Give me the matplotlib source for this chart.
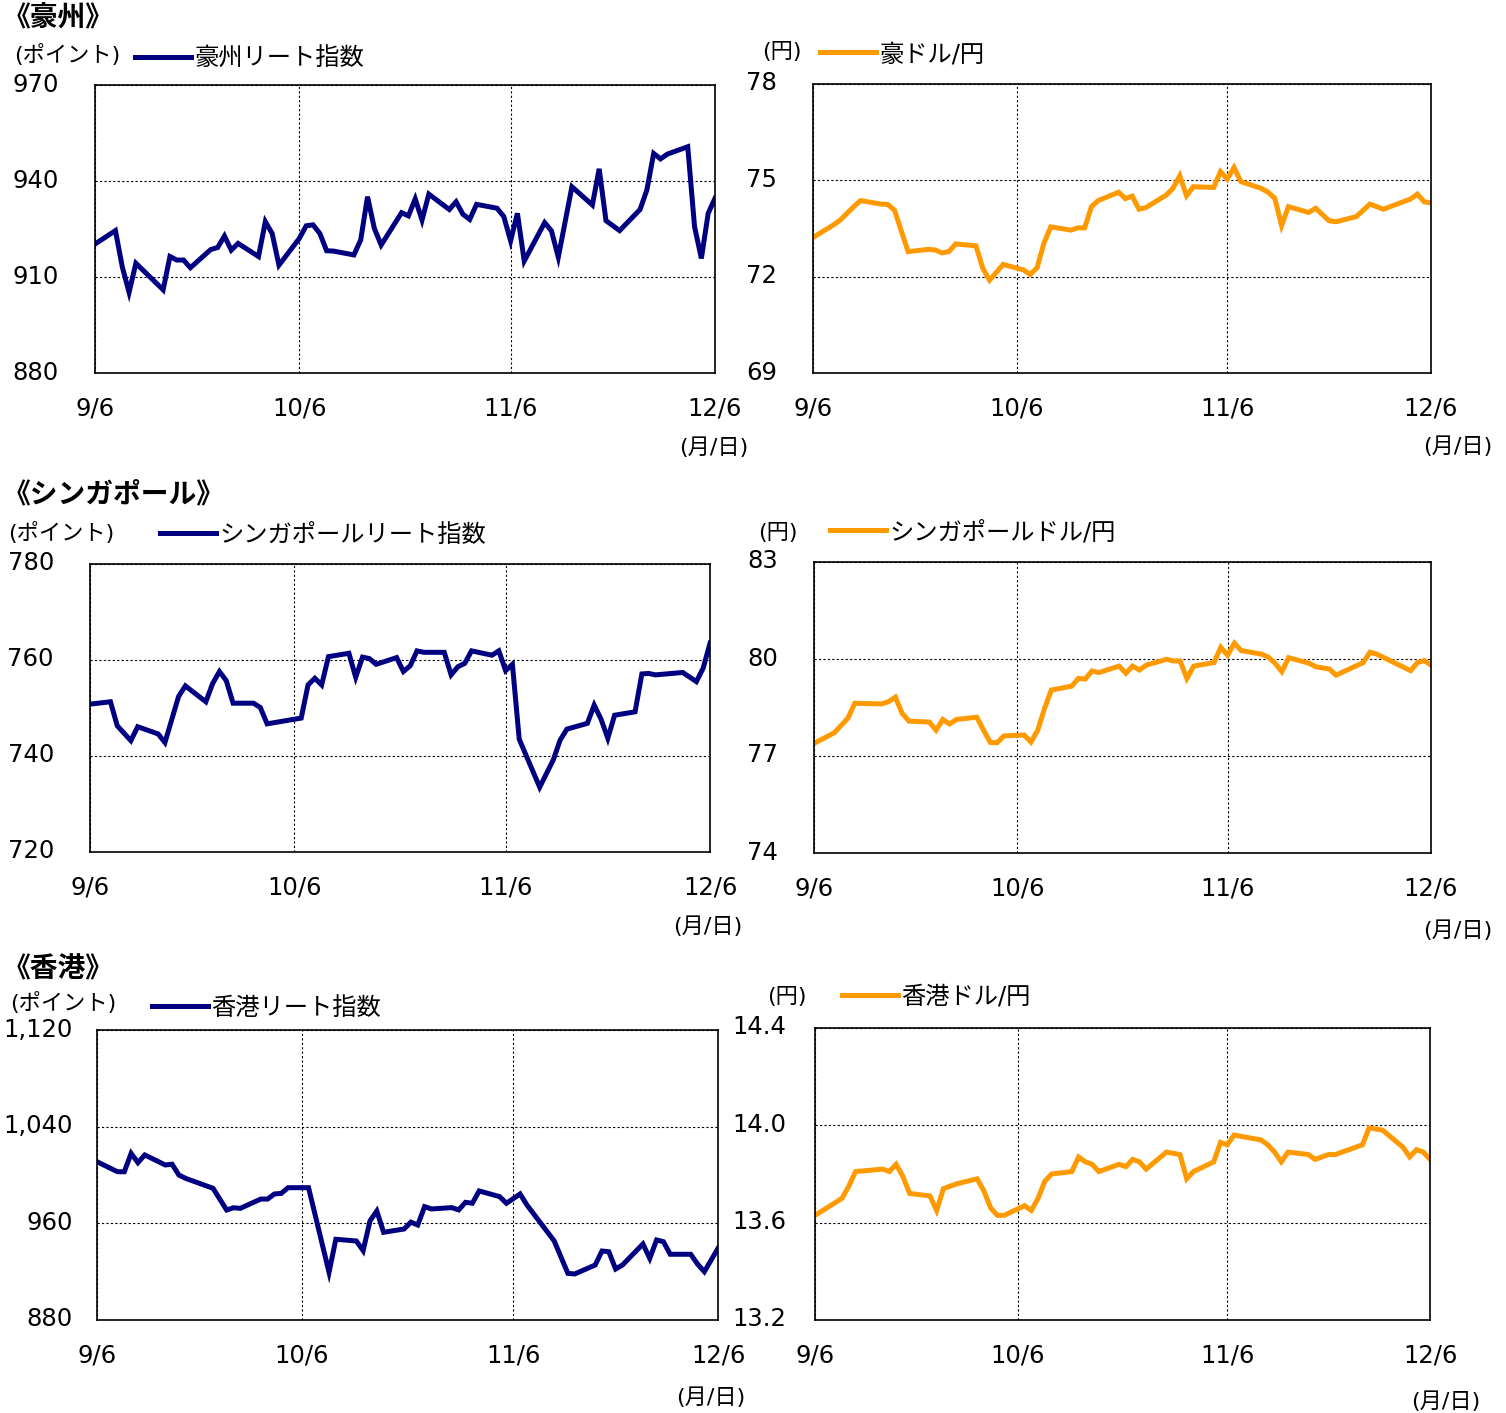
import numpy as np
import matplotlib
matplotlib.use("Agg")
import matplotlib.pyplot as plt
import matplotlib.dates as mdates
from matplotlib.ticker import FuncFormatter, StrMethodFormatter
from matplotlib.transforms import ScaledTranslation

plt.rcParams['font.family'] = ['DejaVu Sans', 'Noto Sans CJK JP']

START = np.datetime64('2024-09-06')
TICK_DAYS = [0, 30, 61, 91]

# 豪州
au_reit_days = [0, 3, 4, 5, 6, 10, 11, 12, 13, 14, 17, 18, 19, 20, 21, 24, 25, 26, 27,
                30, 31, 32, 33, 34, 35, 38, 39, 40, 41, 42, 45, 46, 47, 48, 49, 52, 53,
                54, 55, 56, 59, 60, 61, 62, 63, 66, 67, 68, 70, 73, 74, 75, 77, 80, 81,
                82, 83, 84, 87, 88, 89, 90, 91]
au_reit = [920.3, 924.5, 913.2, 905.2, 914.3, 906.0, 916.4, 915.3, 915.3, 912.9,
           918.6, 919.2, 922.8, 918.4, 920.5, 916.4, 927.3, 923.6, 913.7,
           922.1, 926.0, 926.3, 923.6, 918.2, 918.1, 916.9, 921.6, 935.1, 925.2, 920.0,
           930.1, 929.1, 934.4, 927.8, 935.9, 931.1, 933.5, 929.6, 928.0, 932.7,
           931.5, 928.9, 921.3, 929.9, 915.0, 927.0, 924.4, 916.2, 938.2,
           932.5, 943.8, 927.6, 924.5, 931.1, 937.2, 948.6, 946.9, 948.4,
           950.7, 925.7, 915.8, 929.9, 934.6]

aud_jpy_days = [0, 3, 4, 6, 7, 10, 11, 12, 14, 17, 18, 19, 20, 21, 24, 25, 26, 28, 31,
                32, 33, 34, 35, 38, 39, 40, 41, 42, 45, 46, 47, 48, 49, 52, 53, 54, 55,
                56, 59, 60, 61, 62, 63, 66, 67, 68, 69, 70, 73, 74, 76, 77, 80, 82, 84,
                88, 89, 90, 91]
aud_jpy = [73.22, 73.61, 73.76, 74.18, 74.37, 74.26, 74.25, 74.07, 72.78,
           72.85, 72.83, 72.74, 72.78, 73.02, 72.96, 72.26, 71.89, 72.38,
           72.21, 72.07, 72.28, 73.04, 73.55, 73.45, 73.52, 73.52, 74.18, 74.37,
           74.63, 74.43, 74.51, 74.10, 74.15, 74.54, 74.75, 75.14, 74.52, 74.80,
           74.78, 75.27, 75.04, 75.40, 74.96, 74.75, 74.63, 74.44, 73.59, 74.18,
           74.00, 74.13, 73.74, 73.71, 73.87, 74.26, 74.10, 74.42, 74.57, 74.33, 74.30]

# シンガポール
sg_reit_days = [0, 3, 4, 6, 7, 10, 11, 13, 14, 17, 18, 19, 20, 21, 24, 25, 26, 31, 32,
                33, 34, 35, 38, 39, 40, 41, 42, 45, 46, 47, 48, 49, 52, 53, 54, 55, 56,
                59, 60, 61, 62, 63, 66, 68, 69, 70, 73, 74, 75, 76, 77, 80, 81, 82, 83,
                87, 89, 90, 91]
sg_reit = [750.8, 751.3, 746.3, 743.2, 746.1, 744.6, 742.8, 752.4, 754.6,
           751.3, 755.1, 757.6, 755.7, 751.0, 751.0, 750.1, 746.7,
           747.9, 754.8, 756.2, 754.8, 760.7, 761.4, 756.4, 760.6, 760.3, 759.1,
           760.5, 757.6, 758.8, 761.9, 761.6, 761.6, 756.9, 758.6, 759.3, 761.9,
           761.0, 761.9, 757.8, 759.1, 743.5, 733.5, 739.2, 743.3, 745.6,
           746.8, 750.6, 747.7, 743.7, 748.5, 749.2, 757.1, 757.2, 756.9,
           757.4, 755.5, 758.3, 763.5]

sgd_jpy_days = [0, 3, 5, 6, 10, 11, 12, 13, 14, 17, 18, 19, 20, 21, 24, 25, 26, 27, 28,
                31, 32, 33, 34, 35, 38, 39, 40, 41, 42, 45, 46, 47, 48, 49, 52, 53, 54,
                55, 56, 59, 60, 61, 62, 63, 66, 67, 68, 69, 70, 73, 74, 76, 77, 81, 82,
                83, 88, 89, 90, 91]
sgd_jpy = [77.39, 77.72, 78.17, 78.63, 78.61, 78.68, 78.82, 78.32, 78.08,
           78.05, 77.80, 78.13, 77.99, 78.13, 78.20, 77.80, 77.42, 77.41, 77.62,
           77.65, 77.43, 77.80, 78.47, 79.04, 79.16, 79.40, 79.38, 79.63, 79.58,
           79.78, 79.56, 79.78, 79.66, 79.81, 79.99, 79.94, 79.94, 79.40, 79.78,
           79.89, 80.36, 80.12, 80.49, 80.26, 80.15, 80.06, 79.87, 79.61, 80.04,
           79.87, 79.76, 79.69, 79.50, 79.89, 80.21, 80.15, 79.64, 79.89, 79.95, 79.81]

# 香港
hk_reit_days = [0, 3, 4, 5, 6, 7, 10, 11, 12, 13, 17, 19, 20, 21, 24, 25, 26, 27, 28,
                31, 34, 35, 38, 39, 40, 41, 42, 45, 46, 47, 48, 49, 52, 53, 54, 55, 56,
                59, 60, 62, 63, 67, 69, 70, 73, 74, 75, 76, 77, 80, 81, 82, 83, 84, 87,
                88, 89, 91]
hk_reit = [1011, 1002.7, 1002.7, 1017.9, 1010.2, 1016.6, 1008.3, 1008.9, 1000, 997.2,
           989, 971, 972.9, 972.4, 980.1, 980.1, 984.3, 984.8, 989.5,
           989.5, 919.5, 946.8, 945.4, 937.4, 962, 970.2, 952.6,
           955.3, 961, 958.6, 973.8, 971.9, 973, 971.1, 977.4, 976.6, 986.8,
           982.1, 976.6, 984.3, 975.2, 945.4, 918.6, 918.1,
           925.5, 937.1, 936.5, 922.2, 925.5, 942.9, 931, 946.2, 944.8, 934.4,
           934.4, 926.3, 920, 939.3]

hkd_jpy_days = [0, 4, 5, 6, 10, 11, 12, 13, 14, 17, 18, 19, 21, 24, 25, 26, 27, 28, 31,
                32, 33, 34, 35, 38, 39, 40, 41, 42, 45, 46, 47, 48, 49, 52, 54, 55, 56,
                59, 60, 61, 62, 66, 67, 68, 69, 70, 73, 74, 76, 77, 81, 82, 84, 87, 88,
                89, 90, 91]
hkd_jpy = [13.63, 13.70, 13.75, 13.81, 13.82, 13.81, 13.84, 13.79, 13.72,
           13.71, 13.65, 13.74, 13.76, 13.78, 13.73, 13.66, 13.63, 13.63,
           13.67, 13.65, 13.70, 13.77, 13.80, 13.81, 13.87, 13.85, 13.84, 13.81,
           13.84, 13.83, 13.86, 13.85, 13.82, 13.89, 13.88, 13.78, 13.81,
           13.85, 13.93, 13.92, 13.96, 13.94, 13.92, 13.89, 13.85, 13.89,
           13.88, 13.86, 13.88, 13.88, 13.92, 13.99, 13.98,
           13.91, 13.87, 13.90, 13.89, 13.86]

NAVY = '#000080'
ORANGE = '#FF9900'
W, H = 1506, 1413

fig = plt.figure(figsize=(W / 100, H / 100), dpi=100)
lift = ScaledTranslation(0, 0.03, fig.dpi_scale_trans)


def fx(x):
    return x / W


def fy(y):
    return 1 - y / H


def panel(box, days, values, color, yticks, yfmt, unit, unit_xy,
          label, legend_xy, note_xy, ypad=26):
    left, top, right, bottom = box
    ax = fig.add_axes([fx(left), fy(bottom), (right - left) / W, (bottom - top) / H])
    dates = START + np.array(days).astype('timedelta64[D]')
    ax.plot(dates, values, color=color, linewidth=3.6, label=label,
            solid_joinstyle='miter')
    ax.set_xlim(START, START + np.timedelta64(TICK_DAYS[-1], 'D'))
    ax.set_xticks([START + np.timedelta64(d, 'D') for d in TICK_DAYS])
    ax.xaxis.set_major_formatter(FuncFormatter(
        lambda v, p: f"{mdates.num2date(v).month}/{mdates.num2date(v).day}"))
    ax.set_ylim(yticks[0], yticks[-1])
    ax.set_yticks(yticks)
    ax.yaxis.set_major_formatter(yfmt)
    ax.tick_params(axis='y', length=0, pad=ypad, labelsize=17.5)
    ax.tick_params(axis='x', length=0, pad=17, labelsize=17.5)
    for t in ax.get_yticklabels():
        t.set_transform(t.get_transform() + lift)
    ax.grid(True, color='black', linestyle=(0, (2, 2)), linewidth=0.8)
    for s in ax.spines.values():
        s.set_linewidth(1.2)
    fig.text(fx(unit_xy[0]), fy(unit_xy[1]), unit, fontsize=16,
             ha='left', va='center')
    fig.text(fx(note_xy[0]), fy(note_xy[1]), '(月/日)', fontsize=16,
             ha='right', va='center')
    ax.legend(loc='center left', bbox_to_anchor=(fx(legend_xy[0]), fy(legend_xy[1])),
              bbox_transform=fig.transFigure, frameon=False, borderpad=0,
              borderaxespad=0, handlelength=2.3, handletextpad=0.15,
              fontsize=17.5)
    return ax


fmt0 = StrMethodFormatter('{x:.0f}')

panel((95, 85, 715, 373), au_reit_days, au_reit, NAVY, [880, 910, 940, 970], fmt0,
      '(ポイント)', (14, 55), '豪州リート指数', (135, 59), (748, 448))
panel((813, 84, 1431, 373), aud_jpy_days, aud_jpy, ORANGE, [69, 72, 75, 78], fmt0,
      '(円)', (762, 52), '豪ドル/円', (820, 54), (1492, 447))

panel((90, 564, 710, 852), sg_reit_days, sg_reit, NAVY, [720, 740, 760, 780], fmt0,
      '(ポイント)', (8, 533), 'シンガポールリート指数', (160, 535), (742, 927))
panel((814, 562, 1431, 853), sgd_jpy_days, sgd_jpy, ORANGE, [74, 77, 80, 83], fmt0,
      '(円)', (758, 533), 'シンガポールドル/円', (830, 532), (1492, 931))

panel((97, 1030, 718, 1320), hk_reit_days, hk_reit, NAVY, [880, 960, 1040, 1120],
      StrMethodFormatter('{x:,.0f}'),
      '(ポイント)', (10, 1003), '香港リート指数', (152, 1008), (745, 1398), ypad=17.5)
panel((815, 1028, 1430, 1320), hkd_jpy_days, hkd_jpy, ORANGE, [13.2, 13.6, 14.0, 14.4],
      StrMethodFormatter('{x:.1f}'),
      '(円)', (767, 997), '香港ドル/円', (842, 997), (1480, 1402), ypad=21)

for text, y in [('《豪州》', 18), ('《シンガポール》', 494), ('《香港》', 969)]:
    fig.text(fx(3), fy(y), text, fontsize=20, fontweight='bold', ha='left', va='center')

fig.savefig('out.png', dpi=100)
